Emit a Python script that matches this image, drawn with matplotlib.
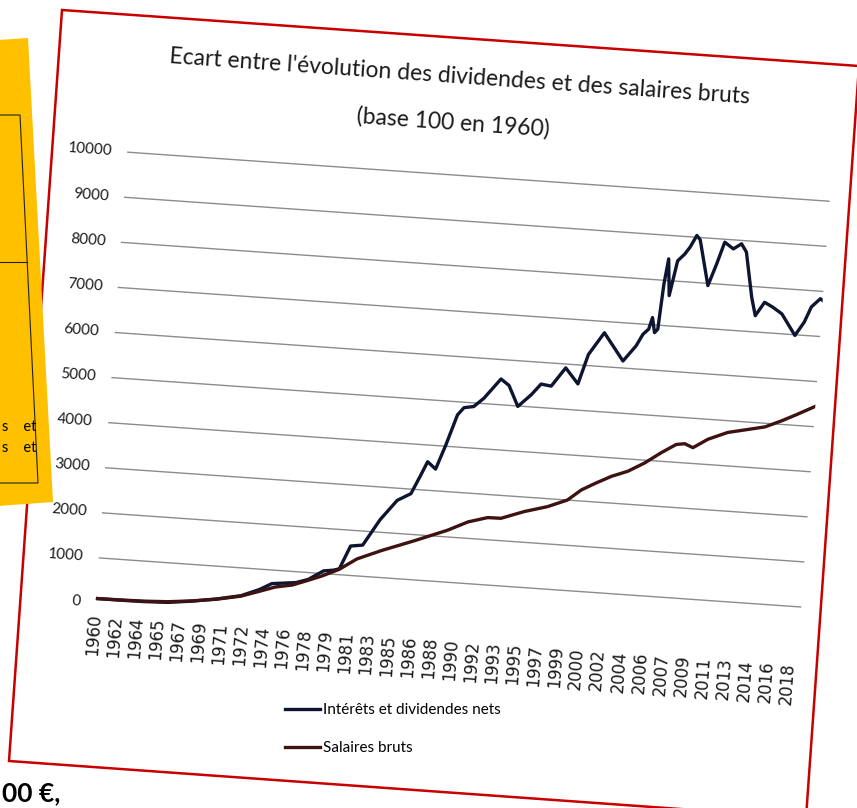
import matplotlib.pyplot as plt
from matplotlib.patches import Polygon
from matplotlib.lines import Line2D
from matplotlib.transforms import Affine2D
import mpl_toolkits.axisartist.floating_axes as floating_axes
from mpl_toolkits.axisartist.grid_finder import FixedLocator, DictFormatter

# values (base 100 in 1960)
div_years = [1960, 1962, 1964, 1966, 1968, 1970, 1972, 1973.5, 1974.5, 1975.5,
             1976.5, 1977.5, 1978.7, 1979.5, 1980.0, 1980.8, 1981.8, 1983.1, 1984.4,
             1985.5, 1986.2, 1986.7, 1987.4, 1988.1, 1988.9, 1989.4, 1990.2, 1991.0,
             1992.3, 1993.0, 1993.85, 1994.9, 1995.65, 1996.5, 1997.6, 1998.7,
             1999.4, 2000.6, 2001.3, 2002.3, 2003.3, 2003.8, 2004.25, 2004.5,
             2004.75, 2005.0, 2005.25, 2005.5, 2005.75, 2006.25, 2006.8, 2007.2,
             2007.7, 2008.0, 2008.9, 2009.5, 2010.05, 2010.8, 2011.45, 2011.9,
             2012.6, 2013.0, 2013.7, 2014.4, 2015.2, 2016.4, 2017.1, 2017.6,
             2018.3, 2018.5]
div_values = [100, 100, 105, 125, 190, 275, 385, 550, 700, 730,
              760, 850, 1060, 1090, 1130, 1650, 1690, 2280, 2730,
              2900, 3320, 3630, 3480, 4020, 4710, 4880, 4920, 5120,
              5570, 5440, 4990, 5270, 5520, 5490, 5915, 5580,
              6245, 6750, 6505, 6155, 6510, 6775, 6900, 7160,
              6830, 6910, 7920, 8480, 7670, 8450, 8610, 8770,
              9040, 8950, 7950, 8440, 8935, 8800, 8925, 8750,
              7760, 7360, 7670, 7575, 7440, 6985, 7295, 7640,
              7835, 7800]

sal_years = [1960, 1962, 1964, 1966, 1968, 1970, 1972, 1973.5, 1974.8, 1976.2,
             1977.3, 1978.6, 1980.0, 1981.4, 1983.4, 1986.0, 1988.75, 1990.4,
             1992.0, 1993.1, 1995.0, 1996.9, 1998.5, 1999.6, 2000.7, 2002.0,
             2003.35, 2004.7, 2006.0, 2007.2, 2007.9, 2008.6, 2009.8, 2011.4,
             2013.1, 2014.45, 2015.8, 2017.0, 2018.5]
sal_values = [100, 105, 115, 140, 195, 270, 375, 510, 630, 700,
              810, 945, 1120, 1375, 1600, 1860, 2150, 2365,
              2490, 2495, 2680, 2825, 3000, 3245, 3410, 3590,
              3730, 3940, 4190, 4395, 4425, 4350, 4560, 4740,
              4840, 4920, 5080, 5240, 5450]

tick_labels = ["1960", "1962", "1964", "1965", "1967", "1969", "1971", "1972",
               "1974", "1976", "1978", "1979", "1981", "1983", "1985", "1986",
               "1988", "1990", "1992", "1993", "1995", "1997", "1999", "2000",
               "2002", "2004", "2006", "2007", "2009", "2011", "2013", "2014",
               "2016", "2018"]
y_ticks = [0, 1000, 2000, 3000, 4000, 5000, 6000, 7000, 8000, 9000, 10000]

title1 = "Ecart entre l'évolution des dividendes et des salaires bruts"
title2 = "(base 100 en 1960)"

W, H = 857, 808
SANS = ['Lato', 'DejaVu Sans']
TILT = -4

fig = plt.figure(figsize=(W / 100, H / 100), dpi=100)


def fig_pts(pts):
    # pixel positions (y down) -> figure fraction
    return [(x / W, 1 - y / H) for x, y in pts]


# the photographed sheet with its red border
fig.add_artist(Polygon(fig_pts([(62, 10), (859, 66), (806, 818), (9, 761)]),
                       closed=True, facecolor='white', edgecolor='#c80000',
                       lw=1.8, zorder=-5))

# rotated chart area (floating axes turned by the tilt of the photo)
tr = Affine2D().translate(-1960, 0).scale(12.04, 0.0452).rotate_deg(TILT)
x_ticks = [1960 + 1.75 * k for k in range(len(tick_labels))]
gh = floating_axes.GridHelperCurveLinear(
    tr, extremes=(1960, 2018.5, 0, 10001),
    grid_locator1=FixedLocator(x_ticks),
    tick_formatter1=DictFormatter(dict(zip(x_ticks, tick_labels))),
    grid_locator2=FixedLocator(y_ticks),
    tick_formatter2=DictFormatter({v: str(v) for v in y_ticks}))

# floating axes shrink their box by 2 %, so the rect is made 2 % larger
ax = fig.add_axes([88.2 / W, 1 - 657.1 / H, 748.8 / W, 510 / H],
                  axes_class=floating_axes.FloatingAxes, grid_helper=gh)
aux = ax.get_aux_axes(tr)
aux.patch = ax.patch
ax.patch.zorder = 0.9

l1, = aux.plot(div_years, div_values, color='#0e1530', lw=2.4,
               solid_joinstyle='round', label='Intérêts et dividendes nets')
l2, = aux.plot(sal_years, sal_values, color='#3d1210', lw=2.4,
               solid_joinstyle='round', label='Salaires bruts')

ax.grid(True, axis='y')
ax.gridlines.set_color('#8c8c8c')
ax.gridlines.set_linewidth(1.0)

for side in ['top', 'right']:
    ax.axis[side].set_visible(False)
for side in ['left', 'bottom']:
    ax.axis[side].line.set_visible(False)
    ax.axis[side].major_ticks.set_visible(False)
    ax.axis[side].label.set_visible(False)

lt = ax.axis['left'].major_ticklabels
lt.set(fontsize=11, family=SANS, color='#1a1a1a')
lt.set_pad(11)
bt = ax.axis['bottom'].major_ticklabels
bt.set(fontsize=12, family='DejaVu Sans', rotation=90, ha='right', va='center',
       color='#1a1a1a')
bt.set_pad(3)

fig.text(460 / W, 1 - 77 / H, title1, rotation=TILT, rotation_mode='anchor',
         ha='center', va='center', fontsize=16.5, family=SANS, color='#1a1a1a')
fig.text(453 / W, 1 - 123 / H, title2, rotation=TILT, rotation_mode='anchor',
         ha='center', va='center', fontsize=16.5, family=SANS, color='#1a1a1a')

fig.legend(handles=[l1, l2], loc='upper left', bbox_to_anchor=(285 / W, 1 - 703 / H),
           frameon=False, prop={'family': SANS, 'size': 11}, handlelength=2.3,
           handletextpad=0.2, labelspacing=1.6, borderpad=0, borderaxespad=0)

# yellow note partly visible on the left
fig.add_artist(Polygon(fig_pts([(-2, 40), (28, 38), (53, 502), (-2, 506)]),
                       closed=True, facecolor='#ffc000', edgecolor='none', zorder=3))
fig.add_artist(Polygon(fig_pts([(-2, 115), (20, 115), (38, 483), (-2, 483)]),
                       closed=False, fill=False, edgecolor='#222222', lw=0.8, zorder=4))
fig.add_artist(Line2D([0, 27 / W], [1 - 262 / H, 1 - 262 / H], color='#222222',
                      lw=0.8, zorder=4))
for yy in [427, 448]:
    fig.text(2 / W, 1 - yy / H, "s    et", fontsize=10.5, family=SANS,
             ha='left', va='center', zorder=5)

fig.text(2 / W, 1 - 793 / H, "00 €,", fontsize=19, fontweight='bold',
         family=SANS, ha='left', va='center')

fig.savefig('out.png', dpi=100)
